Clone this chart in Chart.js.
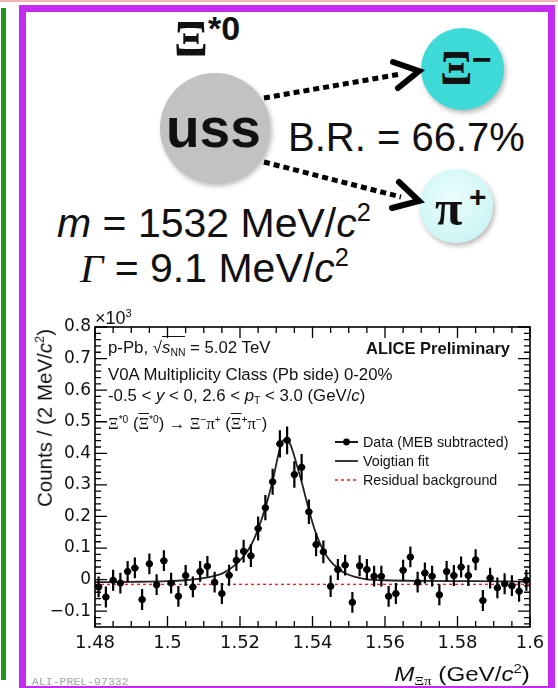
<!DOCTYPE html>
<html>
<head>
<meta charset="utf-8">
<script src="https://cdn.jsdelivr.net/npm/chart.js@4"></script>
<style>
  html, body { margin: 0; padding: 0; background: #fff; }
  #page { position: relative; width: 558px; height: 688px; overflow: hidden; background: #fff;
          font-family: "Liberation Sans", Arial, sans-serif; color: #111; }
  .abs { position: absolute; white-space: nowrap; line-height: 1; }
  .sp { font-size: .62em; position: relative; top: -.62em; }
  .sb { font-size: .62em; position: relative; top: .28em; }
  .serif { font-family: "Liberation Serif", "Times New Roman", serif; }
  .ov { text-decoration: overline; }
  #pinkline { position: absolute; left: 0; top: 0; width: 558px; height: 2px; background: #f2b4b4; }
  #greenline { position: absolute; left: 1px; top: 8px; width: 5px; height: 672px; background: #1d971d; }
  #panel { position: absolute; left: 19px; top: 5px; width: 536px; height: 688px; box-sizing: border-box;
           border: 7px solid #c42bf2; }
  .ball { position: absolute; border-radius: 50%; box-shadow: 2px 3px 5px rgba(0,0,0,.28); }
  #chart { position: absolute; left: 0; top: 0; }
  #arrows { position: absolute; left: 0; top: 0; }
</style>
</head>
<body>
<div id="page">
  <div id="pinkline"></div>
  <div id="greenline"></div>
  <div id="panel"></div>

  <!-- decay diagram -->
  <div class="ball" style="left:160px; top:73px; width:110px; height:110px; background:#c2c2c2;"></div>
  <div class="ball" style="left:421px; top:28px; width:83px; height:82px; background:#3ddad8;"></div>
  <div class="ball" style="left:419px; top:169px; width:74px; height:74px; background:radial-gradient(circle at 45% 40%, #ecfdfd 0%, #d2f6f6 60%, #bdeeee 100%);"></div>

  <svg id="arrows" width="558" height="300">
    <g stroke="#000" fill="none">
      <line x1="264" y1="98" x2="401" y2="74" stroke-width="5" stroke-dasharray="6 4"/>
      <polyline points="393,62 419,71 398,88" stroke-width="6" stroke-linejoin="miter" stroke-linecap="round"/>
      <line x1="264" y1="162" x2="401" y2="197" stroke-width="5" stroke-dasharray="6 4"/>
      <polyline points="399,182 419,201 392,208" stroke-width="6" stroke-linejoin="miter" stroke-linecap="round"/>
    </g>
  </svg>

  <div class="abs serif" style="left:174px; top:13px; font-size:50px; font-weight:bold;">Ξ</div>
  <div class="abs" style="left:208px; top:11px; font-size:34px; font-weight:bold;">*0</div>
  <div class="abs" style="left:166px; top:101px; font-size:55px; font-weight:bold;">uss</div>
  <div class="abs" style="left:288px; top:117px; font-size:40px;">B.R. = 66.7%</div>
  <div class="abs serif" style="left:440px; top:44px; font-size:48px; font-weight:bold;">Ξ</div>
  <div class="abs" style="left:472px; top:42px; font-size:34px; font-weight:bold;">−</div>
  <div class="abs serif" style="left:435px; top:183px; font-size:50px; font-weight:bold;">π</div>
  <div class="abs" style="left:469px; top:182px; font-size:30px; font-weight:bold;">+</div>
  <div class="abs" style="left:57px; top:203px; font-size:41px;"><i>m</i> = 1532 MeV/<i>c</i><span class="sp">2</span></div>
  <div class="abs" style="left:80px; top:248px; font-size:41px;"><i class="serif">Γ</i> = 9.1 MeV/<i>c</i><span class="sp">2</span></div>

  <canvas id="chart" width="558" height="688"></canvas>

  <!-- plot annotations -->
  <div class="abs" style="left:95px; top:309px; font-size:18px;">×10<span class="sp">3</span></div>
  <div class="abs" style="left:108px; top:340px; font-size:16.8px;">p-Pb, √<span style="border-top:1.2px solid #111; padding-top:1px;"><i>s</i><span class="sb">NN</span></span> = 5.02 TeV</div>
  <div class="abs" style="right:48px; top:340px; font-size:16.5px; font-weight:bold;">ALICE Preliminary</div>
  <div class="abs" style="left:108px; top:367px; font-size:16.8px;">V0A Multiplicity Class (Pb side) 0-20%</div>
  <div class="abs" style="left:108px; top:388px; font-size:16.8px;">-0.5 &lt; <i>y</i> &lt; 0, 2.6 &lt; <i>p</i><span class="sb">T</span> &lt; 3.0 (GeV/<i>c</i>)</div>
  <div class="abs" style="left:108px; top:415px; font-size:16.5px;"><span class="serif">Ξ</span><span class="sp">*0</span> (<span class="serif ov">Ξ</span><span class="sp">*0</span>) → <span class="serif">Ξ</span><span class="sp">−</span><span class="serif">π</span><span class="sp">+</span> (<span class="serif ov">Ξ</span><span class="sp">+</span><span class="serif">π</span><span class="sp">−</span>)</div>

  <div class="abs" style="left:363px; top:435px; font-size:14.3px;">Data (MEB subtracted)</div>
  <div class="abs" style="left:363px; top:454px; font-size:14.3px;">Voigtian fit</div>
  <div class="abs" style="left:363px; top:473px; font-size:14.3px;">Residual background</div>

  <div class="abs" style="left:45px; top:418px; font-size:20.5px; transform:translate(-50%,-50%) rotate(-90deg);">Counts / (2 MeV/<i>c</i><span class="sp">2</span>)</div>
  <div class="abs" style="right:28px; top:663px; font-size:21px; transform:scaleX(1.15); transform-origin:right center;"><i>M</i><span class="sb serif">Ξπ</span> (GeV/<i>c</i><span class="sp">2</span>)</div>
  <div class="abs" style="left:32px; top:676px; font-size:11.5px; font-family:'Liberation Mono',monospace; color:#a3a3a3;">ALI-PREL-97332</div>
</div>

<script>
// Invariant-mass bins (bin centres, GeV/c^2), 2 MeV wide
const massBins = [1.481,1.483,1.485,1.487,1.489,1.491,1.493,1.495,1.497,1.499,
                  1.501,1.503,1.505,1.507,1.509,1.511,1.513,1.515,1.517,1.519,
                  1.521,1.523,1.525,1.527,1.529,1.531,1.533,1.535,1.537,1.539,
                  1.541,1.543,1.545,1.547,1.549,1.551,1.553,1.555,1.557,1.559,
                  1.561,1.563,1.565,1.567,1.569,1.571,1.573,1.575,1.577,1.579,
                  1.581,1.583,1.585,1.587,1.589,1.591,1.593,1.595,1.597,1.599];
const binHalfWidth = 0.001;

// Counts per bin after mixed-event background subtraction (x10^3)
const counts = [-0.023,-0.055,-0.002,-0.011, 0.026, 0.037,-0.063, 0.050,-0.016, 0.060,
                -0.011,-0.053, 0.013,-0.023, 0.026, 0.042,-0.008,-0.044, 0.014, 0.061,
                 0.090, 0.076, 0.162, 0.228, 0.310, 0.430, 0.441, 0.333, 0.356, 0.215,
                 0.111, 0.088,-0.021, 0.032, 0.046,-0.072, 0.044, 0.032, 0.011, 0.011,
                -0.053,-0.044, 0.030, 0.072,-0.008, 0.021, 0.011,-0.048, 0.026, 0.013,
                 0.040, 0.013, 0.063,-0.066, 0.005,-0.026,-0.013,-0.019,-0.037,-0.002];
const countErr = [0.033,0.033,0.033,0.033,0.033,0.033,0.033,0.033,0.033,0.033,
                  0.033,0.033,0.033,0.033,0.033,0.033,0.033,0.033,0.033,0.034,
                  0.036,0.036,0.038,0.040,0.041,0.043,0.044,0.042,0.042,0.039,
                  0.037,0.036,0.034,0.033,0.033,0.033,0.033,0.033,0.033,0.033,
                  0.033,0.033,0.033,0.033,0.033,0.033,0.033,0.033,0.033,0.033,
                  0.033,0.033,0.033,0.033,0.033,0.033,0.033,0.033,0.033,0.033];

// Voigtian fit curve (signal + residual background)
const fitMass   = [1.480, 1.490, 1.500, 1.505, 1.509, 1.513, 1.515, 1.517, 1.519, 1.521,
                   1.523, 1.525, 1.527, 1.529, 1.531, 1.532, 1.533, 1.534, 1.535, 1.536,
                   1.537, 1.538, 1.539, 1.540, 1.541, 1.543, 1.545, 1.547, 1.549, 1.552,
                   1.555, 1.560, 1.570, 1.585, 1.600];
const fitCounts = [-0.008,-0.007,-0.005,-0.002, 0.003, 0.012, 0.019, 0.032, 0.050, 0.074,
                    0.108, 0.160, 0.228, 0.312, 0.415, 0.442, 0.446, 0.425, 0.390, 0.350,
                    0.310, 0.265, 0.222, 0.180, 0.145, 0.092, 0.058, 0.036, 0.020, 0.008,
                    0.001,-0.002,-0.004,-0.005,-0.006];

// Residual background
const bkgMass   = [1.48, 1.60];
const bkgCounts = [-0.015, -0.015];

// Axis ticks
const xTicks = [1.48, 1.50, 1.52, 1.54, 1.56, 1.58, 1.60];
const xTickLabels = ['1.48', '1.5', '1.52', '1.54', '1.56', '1.58', '1.6'];
const yTicks = [-0.1, 0, 0.1, 0.2, 0.3, 0.4, 0.5, 0.6, 0.7, 0.8];
const yTickLabels = ['\u22120.1', '0', '0.1', '0.2', '0.3', '0.4', '0.5', '0.6', '0.7', '0.8'];

const toPoints = (xs, ys) => xs.map((x, i) => ({ x: x, y: ys[i] }));

// ROOT-style frame: error bars, inward ticks on all four sides, legend samples
const rootFrame = {
  id: 'rootFrame',
  afterDatasetsDraw(chart) {
    const { ctx, chartArea: ca, scales: { x, y } } = chart;
    ctx.save();
    ctx.beginPath();
    ctx.rect(ca.left, ca.top, ca.right - ca.left, ca.bottom - ca.top);
    ctx.clip();
    ctx.strokeStyle = '#000';
    ctx.lineWidth = 2.2;
    massBins.forEach((m, i) => {
      const px = x.getPixelForValue(m);
      const py = y.getPixelForValue(counts[i]);
      const lo = y.getPixelForValue(counts[i] - countErr[i]);
      const hi = y.getPixelForValue(counts[i] + countErr[i]);
      const xl = x.getPixelForValue(m - binHalfWidth);
      const xr = x.getPixelForValue(m + binHalfWidth);
      ctx.beginPath();
      ctx.moveTo(px, lo); ctx.lineTo(px, hi);
      ctx.moveTo(xl, py); ctx.lineTo(xr, py);
      ctx.stroke();
    });
    ctx.restore();
  },
  afterDraw(chart) {
    const { ctx, chartArea: ca, scales: { x, y } } = chart;
    ctx.save();
    ctx.strokeStyle = '#000';
    ctx.lineWidth = 1.6;
    ctx.strokeRect(ca.left, ca.top, ca.right - ca.left, ca.bottom - ca.top);
    ctx.lineWidth = 1.3;
    ctx.beginPath();
    // y axis: majors every 0.1, minors every 0.02
    for (let k = -7; k <= 40; k++) {
      const py = y.getPixelForValue(k * 0.02);
      const len = (k % 5 === 0) ? 12 : 6;
      ctx.moveTo(ca.left, py); ctx.lineTo(ca.left + len, py);
      ctx.moveTo(ca.right, py); ctx.lineTo(ca.right - len, py);
    }
    // x axis: majors every 0.02, minors every 0.005
    for (let k = 0; k <= 24; k++) {
      const px = x.getPixelForValue(1.48 + k * 0.005);
      const len = (k % 4 === 0) ? 11 : 6;
      ctx.moveTo(px, ca.bottom); ctx.lineTo(px, ca.bottom - len);
      ctx.moveTo(px, ca.top); ctx.lineTo(px, ca.top + len);
    }
    ctx.stroke();

    // legend samples
    const lx0 = ca.left + 240, lx1 = ca.left + 263, lxm = (lx0 + lx1) / 2;
    const rows = [ca.top + 115, ca.top + 134, ca.top + 153];
    ctx.lineWidth = 1.8;
    ctx.strokeStyle = '#000';
    ctx.beginPath();
    ctx.moveTo(lx0, rows[0]); ctx.lineTo(lx1, rows[0]);
    ctx.stroke();
    ctx.fillStyle = '#000';
    ctx.beginPath(); ctx.arc(lxm, rows[0], 3.4, 0, Math.PI * 2); ctx.fill();
    ctx.strokeStyle = '#222';
    ctx.beginPath();
    ctx.moveTo(lx0, rows[1]); ctx.lineTo(lx1, rows[1]);
    ctx.stroke();
    ctx.strokeStyle = '#ff1a1a';
    ctx.lineWidth = 1.4;
    ctx.setLineDash([3, 3]);
    ctx.beginPath();
    ctx.moveTo(lx0, rows[2]); ctx.lineTo(lx1, rows[2]);
    ctx.stroke();
    ctx.restore();
  }
};

new Chart(document.getElementById('chart'), {
  type: 'scatter',
  data: {
    datasets: [
      {
        label: 'Data (MEB subtracted)',
        data: toPoints(massBins, counts),
        showLine: false,
        pointRadius: 3.5,
        pointBackgroundColor: '#000',
        pointBorderWidth: 0,
        order: 0
      },
      {
        label: 'Voigtian fit',
        type: 'line',
        data: toPoints(fitMass, fitCounts),
        borderColor: '#222',
        borderWidth: 1.8,
        pointRadius: 0,
        cubicInterpolationMode: 'monotone',
        fill: false,
        order: 1
      },
      {
        label: 'Residual background',
        type: 'line',
        data: toPoints(bkgMass, bkgCounts),
        borderColor: '#ff1a1a',
        borderWidth: 1.4,
        borderDash: [3, 3],
        pointRadius: 0,
        fill: false,
        order: 2
      }
    ]
  },
  options: {
    responsive: false,
    animation: false,
    devicePixelRatio: 1,
    layout: { padding: { left: 25, right: 28, top: 327, bottom: 21 } },
    plugins: { legend: { display: false }, tooltip: { enabled: false } },
    scales: {
      x: {
        type: 'linear', min: 1.48, max: 1.6,
        afterBuildTicks: s => { s.ticks = xTicks.map(v => ({ value: v })); },
        afterFit: s => { s.height = 40; },
        ticks: {
          callback: (v, i) => xTickLabels[i],
          font: { family: 'DejaVu Sans', size: 18 },
          color: '#111', padding: 6, maxRotation: 0, autoSkip: false
        },
        grid: { display: false, drawTicks: false },
        border: { display: false }
      },
      y: {
        type: 'linear', min: -0.15, max: 0.8,
        afterBuildTicks: s => { s.ticks = yTicks.map(v => ({ value: v })); },
        afterFit: s => { s.width = 70; },
        ticks: {
          callback: (v, i) => yTickLabels[i],
          font: { family: 'DejaVu Sans', size: 17 },
          color: '#111', padding: 4, autoSkip: false
        },
        grid: { display: false, drawTicks: false },
        border: { display: false }
      }
    }
  },
  plugins: [rootFrame]
});
</script>
</body>
</html>
